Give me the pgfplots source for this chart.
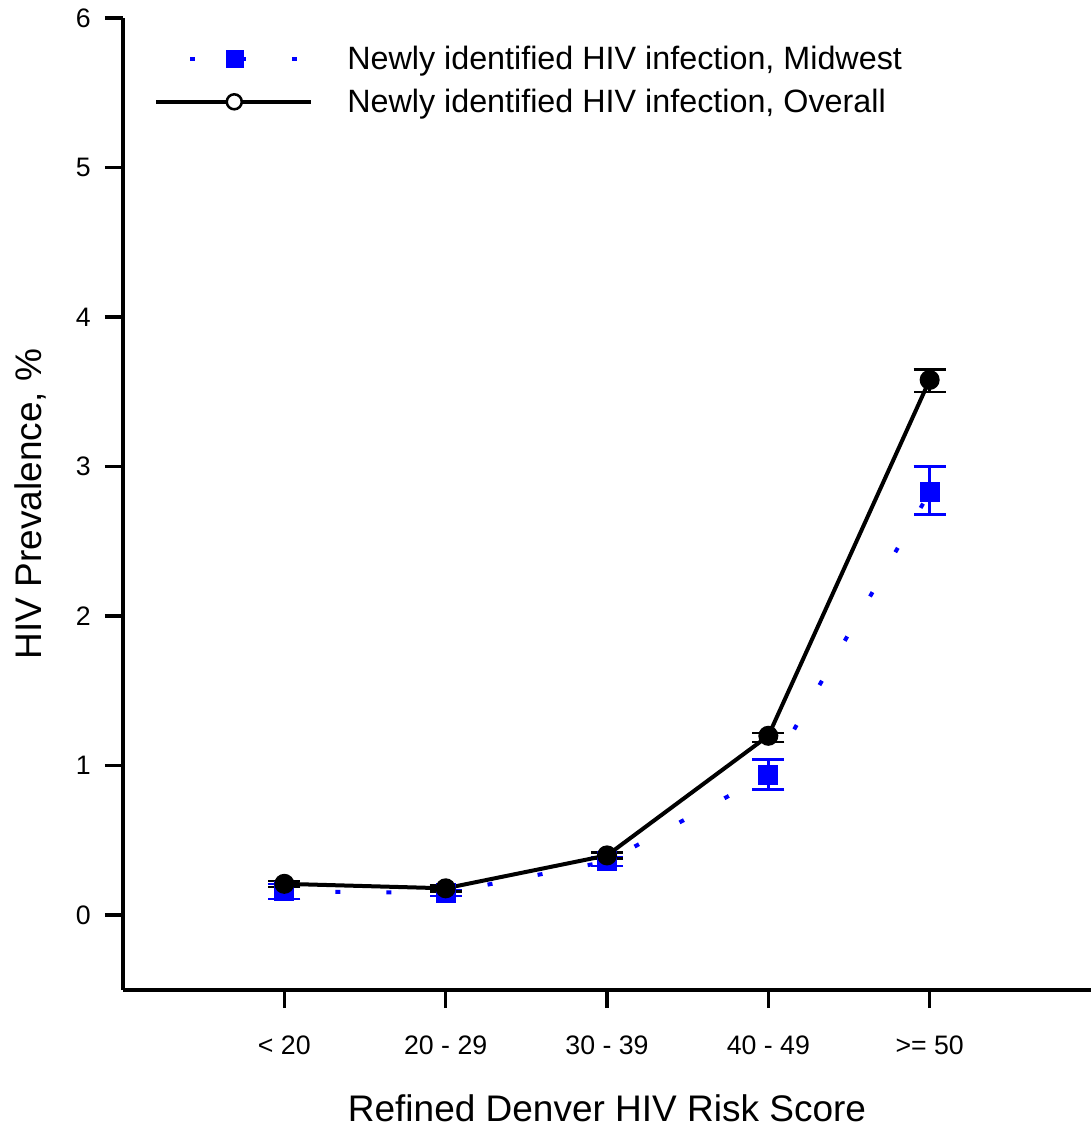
\documentclass[border=0pt]{standalone}
\usepackage{pgfplots}
\pgfplotsset{compat=1.18}
\usepackage{fontspec}
\setmainfont{Liberation Sans}
\definecolor{mwblue}{RGB}{0,0,255}
\begin{document}
\begin{tikzpicture}
\begin{axis}[
  scale only axis, width=968pt, height=972pt,
  xmin=-1, xmax=5, ymin=-0.5, ymax=6,
  axis x line=bottom, axis y line=left,
  axis line style={line width=3.5pt,-},
  xtick={0,1,2,3,4},
  xticklabels={{< 20},{20 - 29},{30 - 39},{40 - 49},{>= 50}},
  ytick={0,1,2,3,4,5,6},
  tick align=outside, major tick length=18pt,
  tick style={line width=3.5pt, black},
  /pgf/number format/assume math mode=true,
  ticklabel style={font=\fontsize{26.7}{30}\selectfont},
  xticklabel style={inner sep=0pt, anchor=north, yshift=-28pt},
  yticklabel style={inner sep=0pt, anchor=east, xshift=-14pt},
  xlabel={Refined Denver HIV Risk Score},
  ylabel={HIV Prevalence, \%},
  label style={font=\fontsize{37}{40}\selectfont},
  xlabel style={at={(axis description cs:0.5,-0.1214)}, anchor=center},
  ylabel style={at={(axis description cs:-0.0961,0.5)}, anchor=center},
  legend style={at={(axis description cs:0.029,0.973)}, anchor=north west,
    draw=none, fill=none, font=\fontsize{32.3}{36}\selectfont,
    row sep=18pt, nodes={inner sep=0pt}},
  legend cell align=left,
]
\addlegendimage{legend image code/.code={
  \draw[mwblue, line width=4pt, dash pattern=on 5pt off 46pt, dash phase=17pt] (0pt,0pt) -- (155pt,0pt);
  \fill[mwblue] (69.5pt,-8.5pt) rectangle (86.5pt,8.5pt);
  \path[draw=none] (0pt,0pt) -- (191pt,0pt);
}}
\addlegendentry{Newly identified HIV infection, Midwest}
\addlegendimage{legend image code/.code={
  \draw[black, line width=4pt] (0pt,0pt) -- (155pt,0pt);
  \draw[black, line width=2.5pt, fill=white] (78pt,0pt) circle (7.5pt);
  \path[draw=none] (0pt,0pt) -- (191pt,0pt);
}}
\addlegendentry{Newly identified HIV infection, Overall}

\addplot[forget plot, mwblue, line width=4pt, dash pattern=on 5pt off 46pt,
  mark=square*, mark size=8pt, mark options={solid, fill=mwblue},
  error bars/.cd, y dir=both, y explicit,
  error bar style={solid, line width=2.5pt, mwblue},
  error mark options={rotate=90, mark size=16pt, line width=2.5pt, solid, mwblue}]
coordinates {
  (0,0.16) += (0,0.05) -= (0,0.05)
  (1,0.15) += (0,0.02) -= (0,0.02)
  (2,0.36) += (0,0.03) -= (0,0.03)
  (3,0.94) += (0,0.10) -= (0,0.10)
  (4,2.83) += (0,0.17) -= (0,0.15)
};
\addplot[forget plot, black, line width=4pt,
  mark=*, mark size=8pt, mark options={solid, fill=black},
  error bars/.cd, y dir=both, y explicit,
  error bar style={solid, line width=2.5pt, black},
  error mark options={rotate=90, mark size=16pt, line width=2.5pt, solid, black}]
coordinates {
  (0,0.21) += (0,0.02) -= (0,0.02)
  (1,0.18) += (0,0.02) -= (0,0.02)
  (2,0.40) += (0,0.02) -= (0,0.02)
  (3,1.20) += (0,0.02) -= (0,0.04)
  (4,3.58) += (0,0.07) -= (0,0.08)
};
\end{axis}
\pgfresetboundingbox
\path (current axis.south west) ++(-123pt,-137pt) rectangle ++(1091pt,1127pt);
\end{tikzpicture}
\end{document}
